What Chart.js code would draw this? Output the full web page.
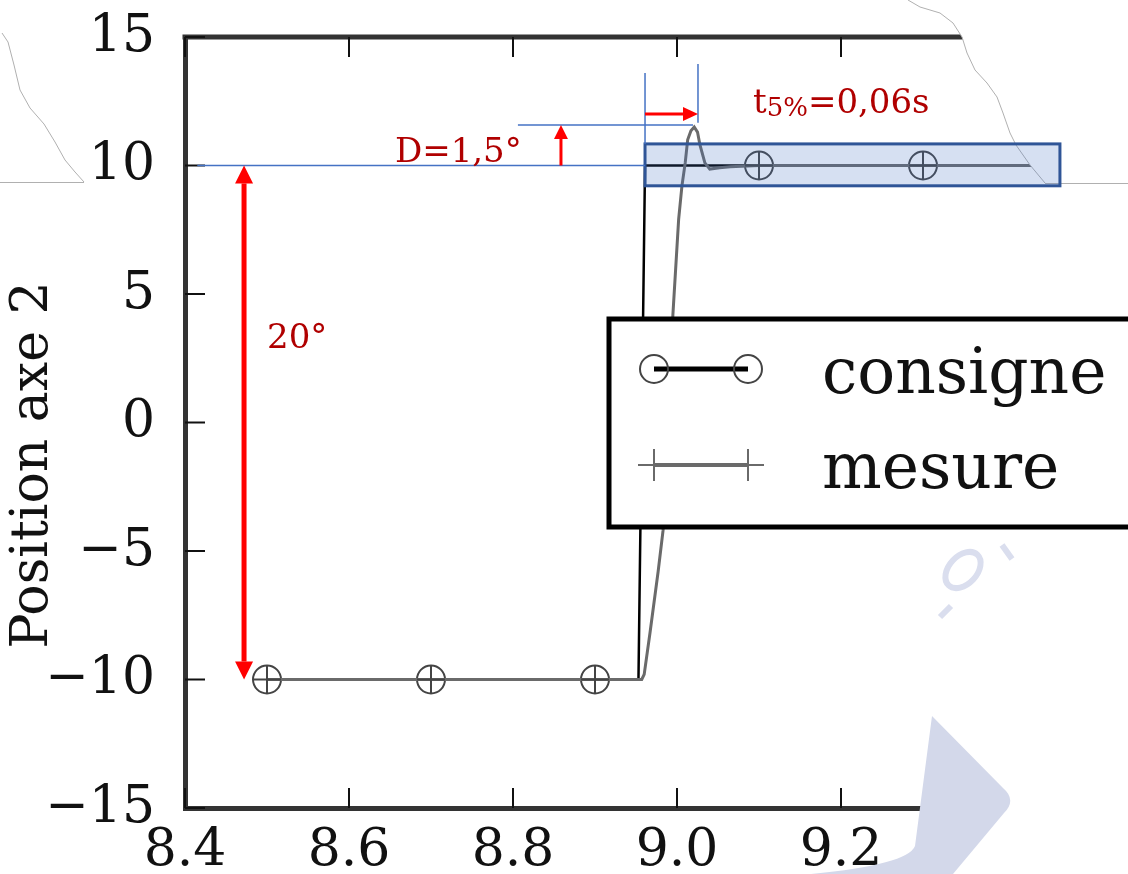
<!DOCTYPE html>
<html lang="fr">
<head>
<meta charset="utf-8">
<title>Position axe 2</title>
<script src="https://cdn.jsdelivr.net/npm/chart.js@4.4.1/dist/chart.umd.min.js"></script>
<style>
  html, body { margin: 0; padding: 0; background: #fff; }
  #wrap { width: 1128px; height: 874px; overflow: hidden; }
</style>
</head>
<body>
<div id="wrap"><canvas id="chart" width="1128" height="874"></canvas></div>
<script>
// axis ticks
const xTicks = [8.4, 8.6, 8.8, 9.0, 9.2, 9.4];
const yTicks = [-15, -10, -5, 0, 5, 10, 15];

// markers are only drawn every 0.2 s
const markerTimes = [8.5, 8.7, 8.9, 9.1, 9.3];

// consigne (step -10 -> 10)
const consigneT = [8.5, 8.7, 8.9, 8.953, 8.961, 9.1, 9.3, 9.5];
const consigneV = [-10, -10, -10, -10, 10, 10, 10, 10];

// mesure (response with overshoot)
const mesureT = [8.5, 8.7, 8.9, 8.957, 8.960, 8.967, 8.977, 8.983, 8.995, 9.002, 9.006, 9.010, 9.013,
                 9.017, 9.021, 9.025, 9.028, 9.034, 9.040, 9.052, 9.065, 9.1, 9.3, 9.5];
const mesureV = [-10, -10, -10, -10, -9.8, -8.2, -5.8, -4.2, 4.2, 7.9, 9.2, 10.1, 11.0,
                 11.35, 11.5, 11.3, 10.8, 10.1, 9.86, 9.91, 9.95, 10, 10, 10];

// annotation geometry, in data units
const bandX = [8.961, 9.467];
const bandY = [9.21, 10.84];
const peakY = 11.58;
const tStart = 8.961, tEnd = 9.0256;

const RED = '#ff0000';
const DARKRED = '#b00000';
const BLUE = '#4472c4';
const SERIF = '"DejaVu Serif", serif';

const toXY = (ts, vs) => ts.map((t, i) => ({ x: t, y: vs[i] }));
const markerRadius = ctx => markerTimes.includes(ctx.raw.x) ? 14 : 0;

function arrowHead(ctx, x2, y2, a, hl, hw) {
  const bx = x2 - hl * Math.cos(a), by = y2 - hl * Math.sin(a);
  ctx.beginPath();
  ctx.moveTo(x2, y2);
  ctx.lineTo(bx + hw / 2 * Math.sin(a), by - hw / 2 * Math.cos(a));
  ctx.lineTo(bx - hw / 2 * Math.sin(a), by + hw / 2 * Math.cos(a));
  ctx.closePath();
  ctx.fill();
  return [bx, by];
}

function arrow(ctx, x1, y1, x2, y2, lw, hl, hw, both) {
  const a = Math.atan2(y2 - y1, x2 - x1);
  const [bx, by] = arrowHead(ctx, x2, y2, a, hl, hw);
  let sx = x1, sy = y1;
  if (both) [sx, sy] = arrowHead(ctx, x1, y1, a + Math.PI, hl, hw);
  ctx.beginPath();
  ctx.moveTo(sx, sy);
  ctx.lineTo(bx, by);
  ctx.lineWidth = lw;
  ctx.stroke();
}

function line(ctx, x1, y1, x2, y2) {
  ctx.beginPath();
  ctx.moveTo(x1, y1);
  ctx.lineTo(x2, y2);
  ctx.stroke();
}

const decorPlugin = {
  id: 'decor',
  afterDraw(chart) {
    const ctx = chart.ctx;
    const xs = chart.scales.x, ys = chart.scales.y;
    const X = v => xs.getPixelForValue(v);
    const Y = v => ys.getPixelForValue(v);
    const area = chart.chartArea;
    ctx.save();

    // top border + inward ticks (MATLAB style box)
    ctx.strokeStyle = '#333';
    ctx.lineWidth = 5;
    line(ctx, area.left - 2.5, area.top, area.right, area.top);
    ctx.strokeStyle = '#111';
    ctx.lineWidth = 2;
    xTicks.forEach(v => {
      line(ctx, X(v), area.top, X(v), area.top + 20);
      line(ctx, X(v), area.bottom, X(v), area.bottom - 20);
    });
    yTicks.forEach(v => line(ctx, area.left, Y(v), area.left + 20, Y(v)));

    // legend box
    ctx.fillStyle = '#fff';
    ctx.fillRect(609, 319, 600, 208);
    ctx.strokeStyle = '#000';
    ctx.lineWidth = 5;
    ctx.strokeRect(609, 319, 600, 208);
    const ds = chart.data.datasets;
    // consigne entry
    ctx.strokeStyle = ds[0].borderColor;
    ctx.lineWidth = 5;
    line(ctx, 654, 369, 748, 369);
    ctx.strokeStyle = ds[0].pointBorderColor;
    ctx.lineWidth = 2;
    [654, 748].forEach(cx => { ctx.beginPath(); ctx.arc(cx, 369, 14, 0, Math.PI * 2); ctx.stroke(); });
    // mesure entry
    ctx.strokeStyle = ds[1].borderColor;
    ctx.lineWidth = 4;
    line(ctx, 654, 465, 748, 465);
    ctx.lineWidth = 2;
    [654, 748].forEach(cx => { line(ctx, cx - 16, 465, cx + 16, 465); line(ctx, cx, 449, cx, 481); });
    ctx.fillStyle = '#111';
    ctx.font = '63px ' + SERIF;
    ctx.textAlign = 'left';
    ctx.textBaseline = 'alphabetic';
    ctx.fillText(ds[0].label, 822, 393);
    ctx.fillText(ds[1].label, 822, 488);

    // torn paper, top right
    const tear = [[908, 0], [920, 7], [940, 13], [953, 23], [962, 37], [967, 53], [975, 70], [987, 83],
                  [997, 97], [1003, 113], [1010, 133], [1016, 145], [1030, 165], [1045, 183]];
    ctx.fillStyle = '#fff';
    ctx.beginPath();
    tear.forEach(([px, py], i) => i ? ctx.lineTo(px, py) : ctx.moveTo(px, py));
    ctx.lineTo(1128, 183);
    ctx.lineTo(1128, 0);
    ctx.closePath();
    ctx.fill();
    ctx.strokeStyle = '#b0b0b0';
    ctx.lineWidth = 1;
    ctx.beginPath();
    tear.forEach(([px, py], i) => i ? ctx.lineTo(px, py) : ctx.moveTo(px, py));
    ctx.stroke();
    line(ctx, 1045, 183.5, 1128, 183.5);

    // torn paper, top left
    const tearL = [[2, 33], [8, 42], [14, 65], [20, 90], [30, 108], [44, 124], [55, 142], [65, 160], [75, 172], [84, 182]];
    ctx.beginPath();
    tearL.forEach(([px, py], i) => i ? ctx.lineTo(px, py) : ctx.moveTo(px, py));
    ctx.stroke();
    line(ctx, 0, 182.5, 84, 182.5);

    // bottom right: white patch + lavender watermark
    ctx.fillStyle = '#fff';
    ctx.fillRect(926, 690, 210, 190);
    ctx.fillStyle = '#d3d8ea';
    ctx.beginPath();
    ctx.moveTo(932, 716);
    ctx.lineTo(1003, 788);
    ctx.quadraticCurveTo(1017, 800, 1004, 813);
    ctx.lineTo(948, 880);
    ctx.lineTo(720, 880);
    ctx.quadraticCurveTo(905, 872, 915, 846);
    ctx.closePath();
    ctx.fill();
    ctx.strokeStyle = '#dadeee';
    ctx.lineWidth = 6;
    ctx.beginPath();
    ctx.ellipse(963, 570, 14, 21, 0.75, 0, Math.PI * 2);
    ctx.stroke();
    line(ctx, 940, 617, 951, 606);
    line(ctx, 1002, 545, 1012, 559);

    // tolerance band around 10
    ctx.fillStyle = 'rgba(68,114,196,0.22)';
    ctx.fillRect(X(bandX[0]), Y(bandY[1]), X(bandX[1]) - X(bandX[0]), Y(bandY[0]) - Y(bandY[1]));
    ctx.strokeStyle = '#2f5597';
    ctx.lineWidth = 3;
    ctx.strokeRect(X(bandX[0]), Y(bandY[1]), X(bandX[1]) - X(bandX[0]), Y(bandY[0]) - Y(bandY[1]));

    // thin blue construction lines
    ctx.strokeStyle = BLUE;
    ctx.lineWidth = 1.5;
    line(ctx, X(8.415), Y(10), X(bandX[0]), Y(10));
    line(ctx, X(8.806), Y(peakY), X(9.0195), Y(peakY));
    line(ctx, X(tStart), Y(13.6), X(tStart), Y(bandY[1]));
    line(ctx, X(tEnd), Y(13.95), X(tEnd), Y(11.66));

    // red arrows
    ctx.fillStyle = RED;
    ctx.strokeStyle = RED;
    arrow(ctx, X(8.472), Y(-10), X(8.472), Y(10), 5, 18, 18, true);
    arrow(ctx, X(8.8585), Y(10), X(8.8585), Y(peakY), 3, 14, 14, false);
    arrow(ctx, X(tStart), Y(12.0), X(tEnd), Y(12.0), 3, 15, 14, false);

    // annotation texts
    ctx.fillStyle = DARKRED;
    ctx.textAlign = 'left';
    ctx.textBaseline = 'alphabetic';
    ctx.font = '34px ' + SERIF;
    ctx.fillText('D=1,5°', X(8.656), Y(10.12));
    ctx.fillText('20°', X(8.5), Y(2.88));
    let tx = X(9.0927);
    const ty = Y(12.05);
    ctx.fillText('t', tx, ty);
    tx += ctx.measureText('t').width;
    ctx.font = '26px ' + SERIF;
    ctx.fillText('5%', tx, ty + 3);
    tx += ctx.measureText('5%').width;
    ctx.font = '34px ' + SERIF;
    ctx.fillText('=0,06s', tx, ty);

    // y axis title
    ctx.fillStyle = '#111';
    ctx.font = '52px ' + SERIF;
    ctx.textAlign = 'center';
    ctx.textBaseline = 'middle';
    ctx.translate(33, 465);
    ctx.rotate(-Math.PI / 2);
    ctx.fillText('Position axe 2', 0, 0);

    ctx.restore();
  }
};

new Chart(document.getElementById('chart'), {
  type: 'line',
  data: {
    datasets: [
      {
        label: 'consigne',
        data: toXY(consigneT, consigneV),
        borderColor: '#000',
        borderWidth: 2.5,
        pointStyle: 'circle',
        pointRadius: markerRadius,
        pointBorderColor: '#444',
        pointBackgroundColor: 'rgba(0,0,0,0)',
        pointBorderWidth: 2,
        tension: 0,
        order: 1
      },
      {
        label: 'mesure',
        data: toXY(mesureT, mesureV),
        borderColor: '#6a6a6a',
        borderWidth: 3,
        pointStyle: 'cross',
        pointRadius: markerRadius,
        pointBorderColor: '#444',
        pointBorderWidth: 2,
        tension: 0,
        order: 0
      }
    ]
  },
  options: {
    responsive: false,
    animation: false,
    events: [],
    layout: { padding: { left: 0, right: 41, top: 37, bottom: 0 } },
    plugins: { legend: { display: false }, tooltip: { enabled: false } },
    scales: {
      x: {
        type: 'linear',
        min: 8.4,
        max: 9.5,
        afterBuildTicks: s => { s.ticks = xTicks.map(v => ({ value: v })); },
        afterFit: s => { s.height = 66; s.paddingRight = 0; },
        grid: { display: false, drawTicks: false },
        border: { display: true, width: 5, color: '#333' },
        ticks: {
          autoSkip: false,
          maxRotation: 0,
          padding: 12,
          color: '#111',
          font: { family: SERIF, size: 52 },
          callback: v => v.toFixed(1)
        }
      },
      y: {
        type: 'linear',
        min: -15,
        max: 15,
        afterBuildTicks: s => { s.ticks = yTicks.map(v => ({ value: v })); },
        // keep the plot frame where the picture has it
        afterFit: s => { s.width = 185; s.paddingTop = 0; s.paddingBottom = 0; },
        grid: { display: false, drawTicks: false },
        border: { display: true, width: 5, color: '#333' },
        ticks: {
          padding: 30,
          color: '#111',
          font: { family: SERIF, size: 52 },
          callback: v => v < 0 ? '\u2212' + Math.abs(v) : String(v)
        }
      }
    }
  },
  plugins: [decorPlugin]
});
</script>
</body>
</html>
